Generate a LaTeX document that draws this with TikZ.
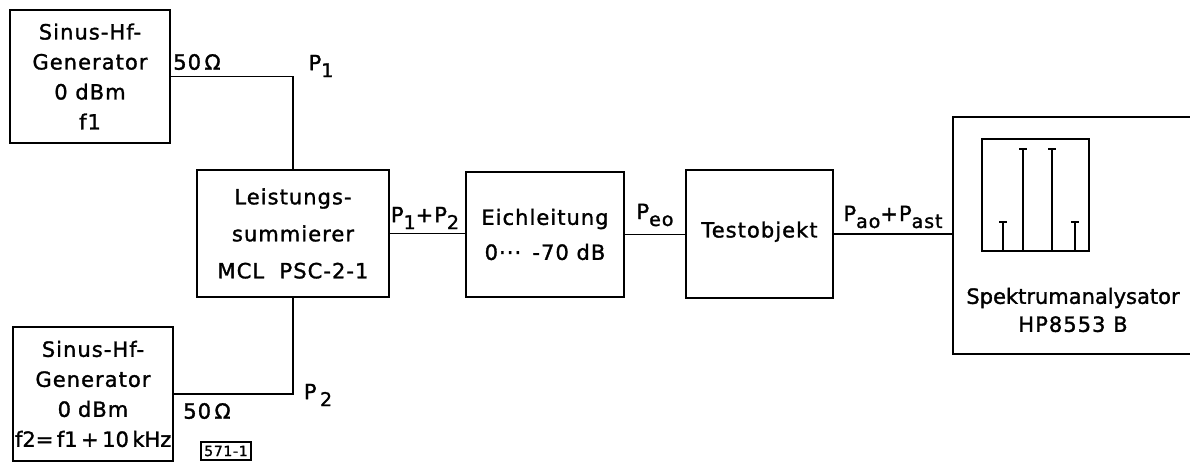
\documentclass[tikz,border=0pt]{standalone}
\usepackage{fontspec}
\setmainfont{DejaVu Sans}[LetterSpace=5,FakeBold=1.4]
\usetikzlibrary{arrows.meta,positioning}
\newcommand\ix[1]{\raisebox{-0.6ex}{\fontsize{9.5}{9.5}\selectfont #1}}

\begin{document}
\begin{tikzpicture}[
      x=0.5pt,y=-0.5pt,
      blk/.style={draw, line width=1.3pt, inner sep=0pt, align=center, font=\fontsize{10.5}{15}\selectfont},
      wire/.style={line width=0.9pt},
      lbl/.style={inner sep=0pt, font=\fontsize{10.5}{12}\selectfont},
      peak/.style={line width=0.9pt, -{Bar[width=4pt,line width=0.9pt]}}
    ]
      \useasboundingbox (0,0) rectangle (1190,463);
      \node[blk, minimum width=80pt, minimum height=66.5pt] (gen1) at (90,76.5) {Sinus-Hf-\\Generator\\0 dBm\\f1};
      \node[blk, minimum width=80pt, minimum height=67pt, text width=78pt] (gen2) at (93,394) {Sinus-Hf-\\Generator\\0 dBm\\{\addfontfeature{LetterSpace=0}f2=\,f1\,+\,10\,kHz}};
      \node[blk, minimum width=96pt, minimum height=63.5pt, font=\fontsize{10.5}{18.5}\selectfont] (sum) at (293,233.5) {Leistungs-\\summierer\\MCL~~PSC-2-1};
      \node[blk, minimum width=79pt, minimum height=62.5pt, font=\fontsize{10.5}{17.5}\selectfont] (eich) at (545,234.5) {Eichleitung\\0···\ \,-70 dB};
      \node[blk, minimum width=73.5pt, minimum height=64pt] (test) at (759.5,234) {\raisebox{4.5pt}{Testobjekt}};
      \node[blk, minimum width=124pt, minimum height=118.5pt] (ana) at (1077,235.5) {};
      \draw[wire] (gen1.east) -| (sum.north);
      \draw[wire] (sum.south) |- (gen2.east);
      \draw[wire] (sum.east) -- (sum.east -| eich.west);
      \draw[wire] (eich.east) -- (eich.east -| test.west);
      \draw[wire] (test.east) -- (test.east -| ana.west);
      \node[lbl] (r1) at (197,62) {50\,Ω};
      \node[lbl] (r2) at (207,411) {50\,Ω};
      \node[lbl] (p1) at (321,66) {P\ix{1}};
      \node[lbl] (p2) at (318,395) {P\,\ix{2}};
      \node[lbl] (p12) at (425,218) {P\ix{1}+P\ix{2}};
      \node[lbl] (peo) at (655,215) {P\ix{eo}};
      \node[lbl] (pao) at (893,217) {P\ix{ao}+P\ix{ast}};
      \draw[line width=1pt] (982,139) rectangle (1089,251);
      \foreach \px/\py in {1003/221, 1023/148, 1052/148, 1075/221}
        \draw[peak] (\px,251) -- (\px,\py);
      \node[lbl, align=center, font=\fontsize{10.5}{14}\selectfont] (anatxt) at (1073,310) {{\addfontfeature{LetterSpace=0}Spektrumanalysator}\\HP8553 B};
      \node[draw, line width=0.9pt, inner sep=1.8pt, font=\fontsize{7}{8}\selectfont] (fig) at (226,451) {571-1};
\end{tikzpicture}
\end{document}
